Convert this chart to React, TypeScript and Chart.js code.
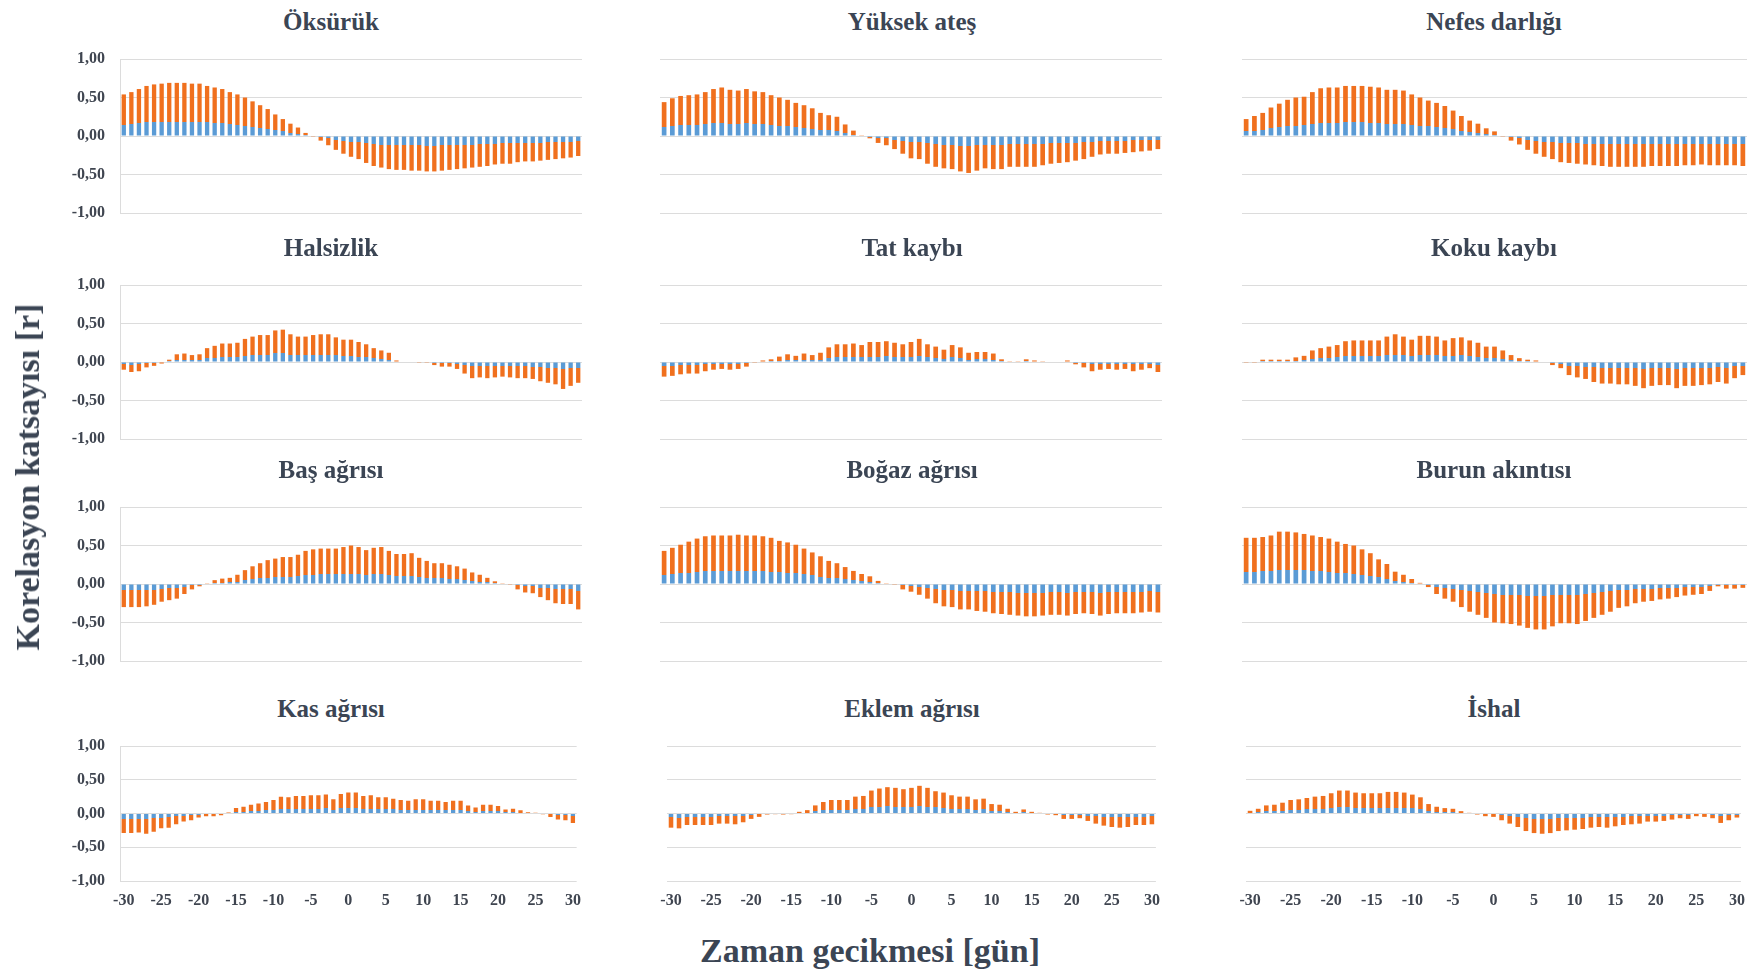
import React, { useEffect, useRef } from "react";
import { Chart, registerables } from "chart.js";

Chart.register(...registerables);

// ---------------- DATA ----------------
const LAGS = [
  -30, -29, -28, -27, -26, -25, -24, -23, -22, -21, -20, -19, -18, -17, -16, -15, -14, -13, -12, -11,
  -10, -9, -8, -7, -6, -5, -4, -3, -2, -1, 0, 1, 2, 3, 4, 5, 6, 7, 8, 9,
  10, 11, 12, 13, 14, 15, 16, 17, 18, 19, 20, 21, 22, 23, 24, 25, 26, 27, 28, 29, 30,
];
const X_TICK_LABELS = ["-30", "-25", "-20", "-15", "-10", "-5", "0", "5", "10", "15", "20", "25", "30"];
const Y_TICK_VALUES = [-1, -0.5, 0, 0.5, 1];
const Y_TICK_LABELS = ["-1,00", "-0,50", "0,00", "0,50", "1,00"];

const SYMPTOMS = [
  "Öksürük", "Yüksek ateş", "Nefes darlığı",
  "Halsizlik", "Tat kaybı", "Koku kaybı",
  "Baş ağrısı", "Boğaz ağrısı", "Burun akıntısı",
  "Kas ağrısı", "Eklem ağrısı", "İshal",
];

const OKSURUK = [
  0.54, 0.57, 0.61, 0.65, 0.67, 0.68, 0.69, 0.69, 0.69, 0.68,
  0.68, 0.65, 0.63, 0.61, 0.57, 0.54, 0.50, 0.45, 0.40, 0.35,
  0.28, 0.22, 0.16, 0.11, 0.04, -0.01, -0.06, -0.12, -0.18, -0.23,
  -0.27, -0.30, -0.35, -0.39, -0.41, -0.43, -0.44, -0.44, -0.45, -0.45,
  -0.46, -0.46, -0.45, -0.44, -0.43, -0.42, -0.41, -0.40, -0.39, -0.37,
  -0.36, -0.36, -0.34, -0.33, -0.33, -0.32, -0.31, -0.30, -0.29, -0.28,
  -0.26,
];
const YUKSEK_ATES = [
  0.44, 0.49, 0.52, 0.53, 0.54, 0.57, 0.61, 0.63, 0.60, 0.59,
  0.61, 0.58, 0.57, 0.53, 0.50, 0.47, 0.43, 0.40, 0.36, 0.30,
  0.27, 0.25, 0.15, 0.07, 0.01, -0.03, -0.09, -0.12, -0.17, -0.23,
  -0.29, -0.30, -0.36, -0.40, -0.42, -0.43, -0.46, -0.48, -0.45, -0.42,
  -0.43, -0.43, -0.40, -0.40, -0.40, -0.40, -0.38, -0.36, -0.35, -0.34,
  -0.32, -0.30, -0.27, -0.24, -0.23, -0.23, -0.22, -0.21, -0.20, -0.19,
  -0.17,
];
const NEFES_DARLIGI = [
  0.22, 0.26, 0.30, 0.37, 0.42, 0.47, 0.50, 0.51, 0.57, 0.62,
  0.63, 0.63, 0.65, 0.65, 0.65, 0.64, 0.63, 0.60, 0.60, 0.59,
  0.54, 0.50, 0.46, 0.43, 0.39, 0.33, 0.26, 0.20, 0.16, 0.10,
  0.06, -0.01, -0.06, -0.11, -0.18, -0.23, -0.27, -0.30, -0.34, -0.35,
  -0.36, -0.37, -0.38, -0.39, -0.40, -0.40, -0.40, -0.40, -0.40, -0.39,
  -0.39, -0.39, -0.39, -0.38, -0.38, -0.37, -0.38, -0.38, -0.38, -0.38,
  -0.39,
];
const HALSIZLIK = [
  -0.10, -0.13, -0.12, -0.07, -0.05, -0.02, 0.03, 0.10, 0.11, 0.09,
  0.10, 0.18, 0.21, 0.24, 0.24, 0.25, 0.30, 0.33, 0.35, 0.35,
  0.41, 0.42, 0.36, 0.33, 0.33, 0.35, 0.36, 0.36, 0.32, 0.29,
  0.29, 0.26, 0.23, 0.18, 0.15, 0.12, 0.02, 0.00, 0.00, -0.01,
  -0.01, -0.04, -0.06, -0.06, -0.09, -0.15, -0.21, -0.20, -0.21, -0.20,
  -0.19, -0.20, -0.21, -0.21, -0.22, -0.25, -0.27, -0.29, -0.35, -0.31,
  -0.27,
];
const TAT_KAYBI = [
  -0.19, -0.18, -0.16, -0.15, -0.15, -0.12, -0.10, -0.09, -0.10, -0.09,
  -0.06, -0.01, 0.02, 0.035, 0.07, 0.10, 0.08, 0.11, 0.09, 0.12,
  0.19, 0.23, 0.23, 0.24, 0.22, 0.26, 0.26, 0.27, 0.25, 0.23,
  0.26, 0.30, 0.23, 0.20, 0.16, 0.22, 0.19, 0.12, 0.13, 0.13,
  0.11, 0.035, 0.01, 0.01, 0.035, 0.02, 0.01, 0.00, 0.00, 0.02,
  -0.03, -0.07, -0.12, -0.10, -0.09, -0.10, -0.09, -0.12, -0.10, -0.08,
  -0.13,
];
const KOKU_KAYBI = [
  -0.01, -0.01, 0.03, 0.03, 0.03, 0.03, 0.06, 0.08, 0.15, 0.18,
  0.20, 0.22, 0.27, 0.28, 0.28, 0.28, 0.28, 0.33, 0.36, 0.33,
  0.29, 0.34, 0.34, 0.33, 0.28, 0.31, 0.32, 0.28, 0.25, 0.20,
  0.20, 0.15, 0.09, 0.05, 0.03, 0.02, 0.00, -0.04, -0.08, -0.17,
  -0.20, -0.22, -0.26, -0.28, -0.28, -0.29, -0.29, -0.31, -0.34, -0.31,
  -0.30, -0.30, -0.34, -0.31, -0.31, -0.30, -0.29, -0.26, -0.28, -0.21,
  -0.17,
];
const BAS_AGRISI = [
  -0.30, -0.30, -0.30, -0.29, -0.27, -0.23, -0.21, -0.19, -0.13, -0.07,
  -0.03, 0.01, 0.05, 0.07, 0.08, 0.12, 0.18, 0.23, 0.27, 0.31,
  0.33, 0.35, 0.35, 0.38, 0.43, 0.45, 0.46, 0.46, 0.46, 0.48,
  0.50, 0.48, 0.44, 0.47, 0.48, 0.43, 0.39, 0.39, 0.40, 0.34,
  0.30, 0.27, 0.27, 0.25, 0.23, 0.20, 0.15, 0.12, 0.08, 0.035,
  0.01, -0.01, -0.07, -0.11, -0.12, -0.17, -0.21, -0.25, -0.26, -0.26,
  -0.33,
];
const BOGAZ_AGRISI = [
  0.43, 0.47, 0.51, 0.55, 0.59, 0.62, 0.63, 0.63, 0.63, 0.64,
  0.63, 0.63, 0.62, 0.60, 0.56, 0.54, 0.51, 0.46, 0.41, 0.36,
  0.30, 0.27, 0.22, 0.17, 0.13, 0.10, 0.04, 0.01, -0.01, -0.07,
  -0.10, -0.14, -0.19, -0.25, -0.29, -0.30, -0.33, -0.33, -0.35, -0.36,
  -0.38, -0.39, -0.40, -0.41, -0.42, -0.42, -0.41, -0.40, -0.40, -0.41,
  -0.39, -0.38, -0.39, -0.41, -0.39, -0.38, -0.38, -0.38, -0.37, -0.36,
  -0.37,
];
const BURUN_AKINTISI = [
  0.60, 0.60, 0.61, 0.63, 0.68, 0.68, 0.67, 0.65, 0.63, 0.61,
  0.59, 0.55, 0.52, 0.50, 0.45, 0.40, 0.32, 0.26, 0.16, 0.12,
  0.065, 0.015, -0.04, -0.13, -0.19, -0.23, -0.30, -0.36, -0.40, -0.44,
  -0.50, -0.51, -0.52, -0.54, -0.57, -0.59, -0.59, -0.55, -0.51, -0.51,
  -0.52, -0.48, -0.44, -0.40, -0.36, -0.31, -0.29, -0.25, -0.23, -0.22,
  -0.20, -0.19, -0.17, -0.15, -0.14, -0.13, -0.09, -0.03, -0.06, -0.06,
  -0.05,
];
const KAS_AGRISI = [
  -0.29, -0.29, -0.28, -0.30, -0.27, -0.22, -0.21, -0.16, -0.12, -0.10,
  -0.06, -0.04, -0.04, -0.025, 0.015, 0.08, 0.10, 0.13, 0.15, 0.17,
  0.20, 0.25, 0.24, 0.26, 0.26, 0.27, 0.27, 0.28, 0.21, 0.29,
  0.31, 0.31, 0.26, 0.27, 0.24, 0.24, 0.22, 0.20, 0.19, 0.21,
  0.21, 0.19, 0.19, 0.17, 0.19, 0.19, 0.12, 0.09, 0.13, 0.13,
  0.11, 0.06, 0.07, 0.05, 0.02, 0.01, -0.01, -0.05, -0.09, -0.10,
  -0.14,
];
const EKLEM_AGRISI = [
  -0.21, -0.22, -0.17, -0.17, -0.17, -0.17, -0.15, -0.15, -0.16, -0.13,
  -0.08, -0.05, -0.015, -0.01, -0.015, -0.01, 0.025, 0.05, 0.12, 0.17,
  0.20, 0.20, 0.20, 0.25, 0.26, 0.34, 0.37, 0.39, 0.38, 0.36,
  0.38, 0.41, 0.38, 0.33, 0.31, 0.27, 0.25, 0.25, 0.21, 0.22,
  0.14, 0.13, 0.07, 0.025, 0.06, 0.025, 0.01, -0.015, -0.025, -0.08,
  -0.08, -0.07, -0.11, -0.15, -0.18, -0.20, -0.21, -0.20, -0.17, -0.17,
  -0.16,
];
const ISHAL = [
  0.04, 0.07, 0.12, 0.13, 0.16, 0.20, 0.21, 0.23, 0.25, 0.26,
  0.30, 0.34, 0.34, 0.31, 0.30, 0.30, 0.30, 0.32, 0.32, 0.31,
  0.28, 0.24, 0.14, 0.10, 0.08, 0.07, 0.035, 0.01, -0.015, -0.04,
  -0.05, -0.10, -0.15, -0.20, -0.26, -0.29, -0.30, -0.29, -0.26, -0.25,
  -0.24, -0.23, -0.21, -0.20, -0.21, -0.19, -0.17, -0.16, -0.15, -0.12,
  -0.12, -0.11, -0.09, -0.07, -0.08, -0.04, -0.05, -0.07, -0.14, -0.10,
  -0.06,
];

const SERIES = [
  OKSURUK, YUKSEK_ATES, NEFES_DARLIGI,
  HALSIZLIK, TAT_KAYBI, KOKU_KAYBI,
  BAS_AGRISI, BOGAZ_AGRISI, BURUN_AKINTISI,
  KAS_AGRISI, EKLEM_AGRISI, ISHAL,
];

const Y_AXIS_TITLE = "Korelasyon katsayısı [r]";
const X_AXIS_TITLE = "Zaman gecikmesi [gün]";

// ---------------- STYLE / LAYOUT ----------------
const SERIF = '"Liberation Serif", "Times New Roman", "DejaVu Serif", serif';
const TEXT_COLOR = "#3b4554";
const TICK_COLOR = "#3f4550";
const ORANGE = "#f0701e";
const BLUE = "#5b9bd5";
const BLUE_SHARE = 0.27;
const GRID_COLOR = "#dcdcdc";

const ROW_TOP = [59, 285, 507, 746];
const ROW_BOTTOM = [213, 439, 661, 881];
const AREA_LEFT = [
  [120, 660, 1242],
  [120, 660, 1242],
  [120, 660, 1242],
  [120, 667, 1246],
];
const AREA_RIGHT = [
  [582, 1162, 1747],
  [582, 1162, 1747],
  [582, 1162, 1747],
  [579, 1158, 1743],
];
const TITLE_CENTER = [331, 912, 1494];

function geometry(row: number, col: number) {
  const aL = AREA_LEFT[row][col];
  const aR = AREA_RIGHT[row][col];
  const aT = ROW_TOP[row];
  const aB = ROW_BOTTOM[row];
  const yW = col === 0 ? 80 : 20;
  const padTop = 28;
  const padRight = 12;
  const xH = row === 3 ? 40 : 28;
  return {
    left: aL - yW,
    top: aT - padTop,
    width: yW + (aR - aL) + padRight,
    height: padTop + (aB - aT) + xH,
    yW,
    xH,
    padTop,
    padRight,
    titleX: TITLE_CENTER[col],
    titleBaseline: aT - 29,
  };
}

function barFill(c: any) {
  if (c.type !== "data") return ORANGE;
  const chart = c.chart;
  const ys = chart.scales && chart.scales.y;
  if (!ys) return ORANGE;
  const v = Number(c.raw);
  const y0 = ys.getPixelForValue(0);
  const y1 = ys.getPixelForValue(v);
  if (!isFinite(y0) || !isFinite(y1) || Math.abs(y1 - y0) < 0.5) return ORANGE;
  const g = chart.ctx.createLinearGradient(0, y0, 0, y1);
  g.addColorStop(0, BLUE);
  g.addColorStop(BLUE_SHARE, BLUE);
  g.addColorStop(BLUE_SHARE, ORANGE);
  g.addColorStop(1, ORANGE);
  return g;
}

function Panel({ index }: { index: number }) {
  const ref = useRef<HTMLCanvasElement | null>(null);
  const row = Math.floor(index / 3);
  const col = index % 3;
  const gm = geometry(row, col);
  const title = SYMPTOMS[index];
  const values = SERIES[index];

  useEffect(() => {
    const canvas = ref.current;
    if (!canvas) return;
    const tickFont = { family: SERIF, size: 16, weight: "bold" as const };
    const chart = new Chart(canvas, {
      type: "bar",
      data: {
        labels: LAGS.map(String),
        datasets: [
          {
            data: values,
            backgroundColor: barFill as any,
            borderWidth: 0,
            barPercentage: 0.57,
            categoryPercentage: 1,
          },
        ],
      },
      options: {
        responsive: false,
        animation: false,
        events: [],
        layout: { padding: { top: gm.padTop, right: gm.padRight, left: 0, bottom: 0 } },
        plugins: {
          legend: { display: false },
          tooltip: { enabled: false },
          title: { display: false },
        },
        scales: {
          x: {
            type: "category",
            offset: true,
            grid: { display: false, drawTicks: false },
            border: { display: false },
            ticks: {
              display: row === 3,
              autoSkip: false,
              maxRotation: 0,
              minRotation: 0,
              padding: 10,
              color: TICK_COLOR,
              font: tickFont,
              callback: (_v: any, i: number) => {
                const s = String(LAGS[i]);
                return X_TICK_LABELS.includes(s) ? s : "";
              },
            },
            afterFit: (s: any) => {
              s.height = gm.xH;
            },
          },
          y: {
            min: -1,
            max: 1,
            grid: { color: GRID_COLOR, lineWidth: 1, drawTicks: false },
            border: { display: col === 0, color: GRID_COLOR },
            afterBuildTicks: (s: any) => {
              s.ticks = Y_TICK_VALUES.map((v) => ({ value: v }));
            },
            ticks: {
              display: col === 0,
              padding: 15,
              color: TICK_COLOR,
              font: tickFont,
              callback: (v: any) => {
                const k = Y_TICK_VALUES.indexOf(Number(v));
                return k >= 0 ? Y_TICK_LABELS[k] : "";
              },
            },
            afterFit: (s: any) => {
              s.width = gm.yW;
            },
          },
        },
      },
    });
    return () => chart.destroy();
  }, []);

  return (
    <>
      <div
        style={{
          position: "absolute",
          left: gm.titleX,
          top: gm.titleBaseline - 21,
          transform: "translateX(-50%)",
          fontFamily: SERIF,
          fontWeight: "bold",
          fontSize: 25,
          lineHeight: "25px",
          color: TEXT_COLOR,
          whiteSpace: "nowrap",
        }}
      >
        {title}
      </div>
      <canvas
        ref={ref}
        width={gm.width}
        height={gm.height}
        style={{ position: "absolute", left: gm.left, top: gm.top, width: gm.width, height: gm.height }}
      />
    </>
  );
}

export default function App() {
  return (
    <div
      style={{
        position: "absolute",
        left: 0,
        top: 0,
        width: 1760,
        height: 975,
        overflow: "hidden",
        background: "#ffffff",
      }}
    >
      {SYMPTOMS.map((_, i) => (
        <Panel key={i} index={i} />
      ))}
      <div
        style={{
          position: "absolute",
          left: 28,
          top: 477,
          transform: "translate(-50%, -50%) rotate(-90deg)",
          fontFamily: SERIF,
          fontWeight: "bold",
          fontSize: 34,
          lineHeight: "34px",
          color: TEXT_COLOR,
          whiteSpace: "nowrap",
        }}
      >
        {Y_AXIS_TITLE}
      </div>
      <div
        style={{
          position: "absolute",
          left: 870,
          top: 951,
          transform: "translate(-50%, -50%)",
          fontFamily: SERIF,
          fontWeight: "bold",
          fontSize: 34,
          lineHeight: "34px",
          color: TEXT_COLOR,
          whiteSpace: "nowrap",
        }}
      >
        {X_AXIS_TITLE}
      </div>
    </div>
  );
}
